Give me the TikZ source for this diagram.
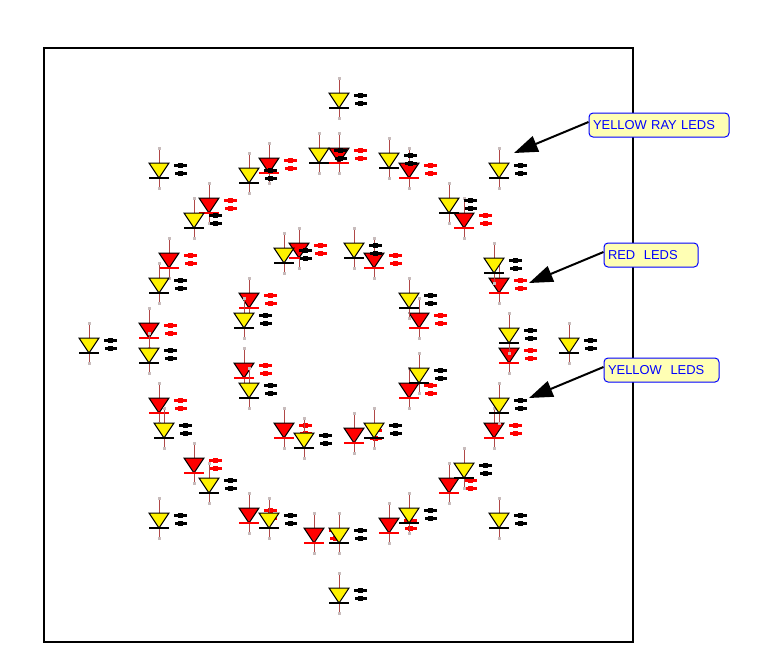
\documentclass[tikz,border=0pt]{standalone}
\usepackage{fontspec}
\usetikzlibrary{arrows.meta}
\newfontfamily\lblfont{Liberation Sans}
\definecolor{leadbrown}{HTML}{B04848}
\definecolor{handlegrey}{HTML}{C8BCBC}
\definecolor{lblfill}{HTML}{FFFFB4}
\tikzset{
  pics/ledbase/.style 2 args={code={
    \draw [leadbrown,line width=0.75pt] (0,20) -- (0,-20) ;
    \fill [handlegrey] (-1.5,21.5) rectangle (1.5,18.5) ;
    \fill [handlegrey] (-1.5,-18.5) rectangle (1.5,-21.5) ;
    \filldraw [fill=#1,draw=black,line width=0.75pt] (-10,5) -- (10,5) -- (0,-10) -- cycle ;
    \fill [#2] (-10,-9) rectangle (10,-11) ;
    \fill [#2] (15,4.5) rectangle (28,1.5) ;
    \fill [#2] (19,5.5) rectangle (24,0.5) ;
    \fill [#2] (16,-4) rectangle (28,-7) ;
    \fill [#2] (19,-3) rectangle (24,-8) ;
  }},
  pics/redled/.style={code={\pic {ledbase={red}{red}};}},
  pics/yellowled/.style={code={\pic {ledbase={yellow}{black}};}},
  lblbox/.style={draw=blue,fill=lblfill,line width=0.75pt,rounded corners=3pt,text=blue,font=\lblfont\fontsize{9.7}{11}\selectfont,align=left,inner xsep=3pt,inner ysep=0pt,minimum height=18pt},
  lblarrow/.style={-{Triangle[length=17.8pt,width=12.4pt]},line width=1.5pt},
}
\begin{document}
\begin{tikzpicture}[x=0.75pt,y=0.75pt,yscale=-1,xscale=1]
\useasboundingbox (0,0) rectangle (762,669);

%Shape: Frame
\draw [line width=1.5pt] (44,48) rectangle (633,642) ;

%Red outer ring
\pic at (339,153) {redled};
\pic at (409,168) {redled};
\pic at (464,218) {redled};
\pic at (499,283) {redled};
\pic at (509,353) {redled};
\pic at (494,428) {redled};
\pic at (449,483) {redled};
\pic at (389,523) {redled};
\pic at (314,533) {redled};
\pic at (249,513) {redled};
\pic at (194,463) {redled};
\pic at (159,403) {redled};
\pic at (149,328) {redled};
\pic at (169,258) {redled};
\pic at (209,203) {redled};
\pic at (269,163) {redled};
%Red inner ring
\pic at (299,248) {redled};
\pic at (374,258) {redled};
\pic at (419,318) {redled};
\pic at (409,388) {redled};
\pic at (354,433) {redled};
\pic at (284,428) {redled};
\pic at (244,368) {redled};
\pic at (249,298) {redled};

%Yellow ray
\pic at (339,98) {yellowled};
\pic at (499,168) {yellowled};
\pic at (569,343) {yellowled};
\pic at (499,518) {yellowled};
\pic at (339,593) {yellowled};
\pic at (159,518) {yellowled};
\pic at (89,343) {yellowled};
\pic at (159,168) {yellowled};
%Yellow outer ring
\pic at (319,153) {yellowled};
\pic at (389,158) {yellowled};
\pic at (449,203) {yellowled};
\pic at (494,263) {yellowled};
\pic at (509,333) {yellowled};
\pic at (499,403) {yellowled};
\pic at (464,468) {yellowled};
\pic at (409,513) {yellowled};
\pic at (339,533) {yellowled};
\pic at (269,518) {yellowled};
\pic at (209,483) {yellowled};
\pic at (164,428) {yellowled};
\pic at (149,353) {yellowled};
\pic at (159,283) {yellowled};
\pic at (194,218) {yellowled};
\pic at (249,173) {yellowled};
%Yellow inner ring
\pic at (284,253) {yellowled};
\pic at (354,248) {yellowled};
\pic at (409,298) {yellowled};
\pic at (419,373) {yellowled};
\pic at (374,428) {yellowled};
\pic at (304,438) {yellowled};
\pic at (249,388) {yellowled};
\pic at (244,318) {yellowled};

% Text Node
\node [lblbox,text width=99pt] (lblray) at (659,125) {YELLOW RAY LEDS};
% Text Node
\node [lblbox,text width=64.5pt] (lblred) at (651,255) {RED\ \ LEDS};
% Text Node
\node [lblbox,text width=80.25pt] (lblyellow) at (661.5,370) {YELLOW\ \ LEDS};

\coordinate (tipray) at (514,153);
\coordinate (tipred) at (529,283);
\coordinate (tipyellow) at (529,398);
\draw [lblarrow] ([yshift=-2.25pt]lblray.west) -- (tipray) ;
\draw [lblarrow] ([yshift=-2.25pt]lblred.west) -- (tipred) ;
\draw [lblarrow] ([yshift=-2.25pt]lblyellow.west) -- (tipyellow) ;
\end{tikzpicture}
\end{document}
